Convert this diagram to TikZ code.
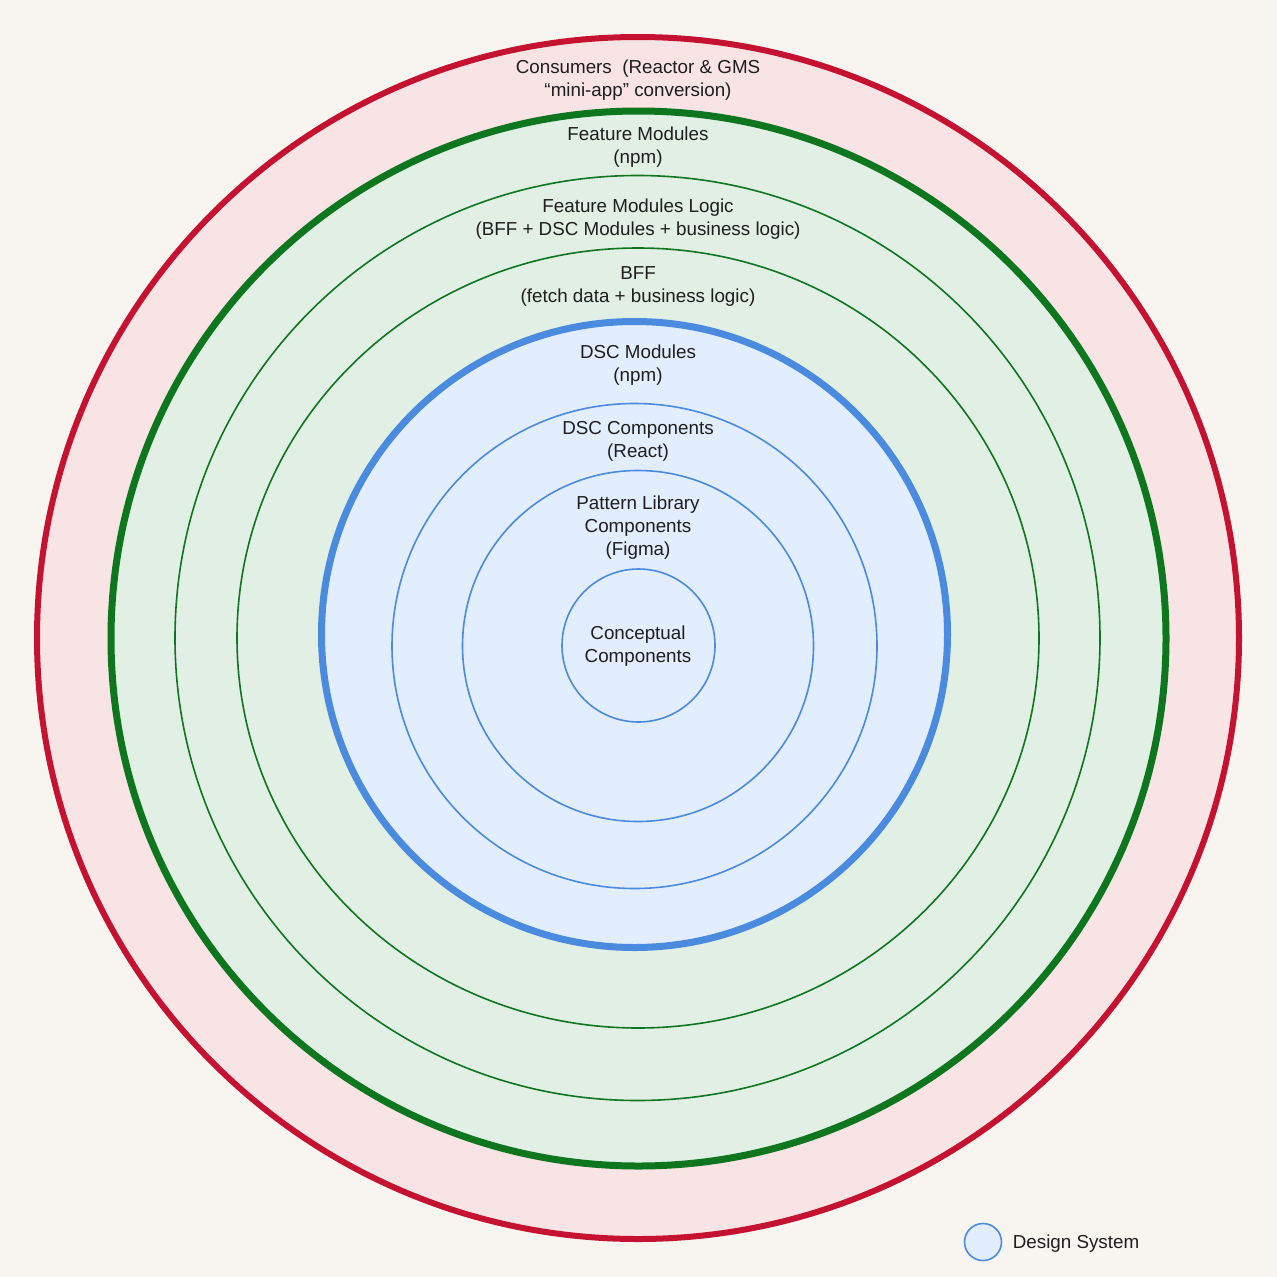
\documentclass[tikz,border=0pt]{standalone}
\usepackage{fontspec}
\setmainfont{Liberation Sans}
\usetikzlibrary{positioning,shapes.geometric}

\definecolor{paper}{HTML}{F8F5F1}
\definecolor{consumerred}{HTML}{C41230}
\definecolor{consumerfill}{HTML}{F8E3E5}
\definecolor{featuregreen}{HTML}{0E761E}
\definecolor{featurefill}{HTML}{E2EFE4}
\definecolor{dsblue}{HTML}{4A8ADF}
\definecolor{dsfill}{HTML}{E2EEFD}
\definecolor{ink}{HTML}{1E1E1E}

\begin{document}
\begin{tikzpicture}[
    x=1pt, y=-1pt,
    ring/.style={circle, draw, inner sep=0pt},
    redring/.style={ring, draw=consumerred, fill=consumerfill, line width=6pt},
    greenring/.style={ring, draw=featuregreen, fill=featurefill, line width=1.6pt},
    bluering/.style={ring, draw=dsblue, fill=dsfill, line width=1.6pt},
    ringtext/.style={align=center, text=ink, font=\fontsize{18.8}{23}\selectfont},
]

\fill[paper] (0,0) rectangle (1277,1277);
\useasboundingbox (0,0) rectangle (1277,1277);

% Rings, outside in
\node[redring, minimum size=1202pt] (consumers) at (638,638) {};
\node[greenring, line width=7pt, minimum size=1055pt] (feature) at (638.5,638.5) {};
\node[greenring, minimum size=925pt] (featurelogic) at (637.5,638) {};
\node[greenring, ellipse, minimum width=802pt, minimum height=780pt] (bff) at (638,638) {};
\node[bluering, line width=7pt, minimum size=626pt] (dscmodules) at (634.5,634.5) {};
\node[bluering, minimum size=485pt] (dsccomponents) at (634.5,646) {};
\node[bluering, minimum size=351pt] (pattern) at (638,646) {};
\node[bluering, minimum size=153pt] (conceptual) at (638.5,645.5) {};

% Labels
\node[ringtext] (consumerstext) at (638,80.5) {Consumers~~(Reactor \& GMS\\``mini-app'' conversion)};
\node[ringtext] (featuretext) at (638,147.5) {Feature Modules\\(npm)};
\node[ringtext] (featurelogictext) at (638,219.5) {Feature Modules Logic\\(BFF + DSC Modules + business logic)};
\node[ringtext] (bfftext) at (638,286.5) {BFF\\(fetch data + business logic)};
\node[ringtext] (dscmodulestext) at (638,365.5) {DSC Modules\\(npm)};
\node[ringtext] (dsccomponentstext) at (638,441.5) {DSC Components\\(React)};
\node[ringtext] (patterntext) at (638,527.5) {Pattern Library\\Components\\(Figma)};
\node[ringtext] (conceptualtext) at (638,646) {Conceptual\\Components};

% Legend
\node[bluering, minimum size=37pt] (legendring) at (983,1242) {};
\node[ringtext, anchor=west, right=7pt of legendring, yshift=-1.5pt] (legendtext) {Design System};

\end{tikzpicture}
\end{document}
